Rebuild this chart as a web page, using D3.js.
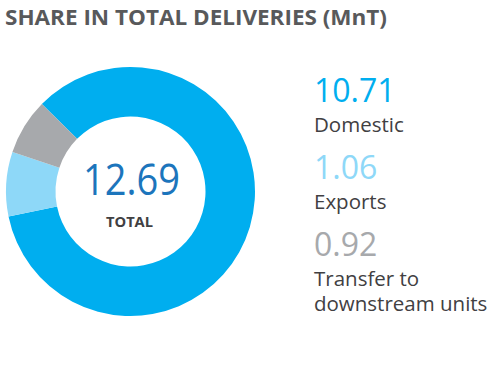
<!DOCTYPE html>
<html>
<head>
<meta charset="utf-8">
<script src="https://cdn.jsdelivr.net/npm/d3@7"></script>
<style>
  html, body { margin: 0; padding: 0; background: #fff; }
  svg { display: block; }
  text { font-family: "Open Sans", "Noto Sans", sans-serif; }
</style>
</head>
<body>
<svg id="chart" width="500" height="379"></svg>
<script>
const title = "SHARE IN TOTAL DELIVERIES (MnT)";
const categories = ["Domestic", "Exports", "Transfer to downstream units"];
const labelLines = [["Domestic"], ["Exports"], ["Transfer to", "downstream units"]];
const values = [10.71, 1.06, 0.92];
const valueLabels = ["10.71", "1.06", "0.92"];
const colors = ["#00AEEF", "#8ED8F8", "#A7A9AC"];
const totalLabel = "12.69";
const totalCaption = "TOTAL";

const svg = d3.select("#chart");

svg.append("text")
  .attr("x", 5).attr("y", 25)
  .attr("font-size", 22).attr("font-weight", 700)
  .attr("fill", "#58595B")
  .attr("textLength", 382).attr("lengthAdjust", "spacingAndGlyphs")
  .text(title);

const cx = 130.5, cy = 191.5, rOuter = 124.5, rInner = 75;
const start = -45.4 * Math.PI / 180;
const pie = d3.pie().sort(null).value(d => d).startAngle(start).endAngle(start + 2 * Math.PI);
const arc = d3.arc().innerRadius(rInner).outerRadius(rOuter);

const g = svg.append("g").attr("transform", `translate(${cx},${cy})`);
g.selectAll("path").data(pie(values)).enter().append("path")
  .attr("d", arc)
  .attr("fill", (d, i) => colors[i]);

g.append("text")
  .attr("x", 1).attr("y", 3.5)
  .attr("text-anchor", "middle")
  .attr("font-size", 44).attr("font-weight", 400)
  .attr("fill", "#1C75BC")
  .attr("textLength", 97).attr("lengthAdjust", "spacingAndGlyphs")
  .text(totalLabel);

g.append("text")
  .attr("x", -1).attr("y", 35.5)
  .attr("text-anchor", "middle")
  .attr("font-size", 15).attr("font-weight", 700)
  .attr("fill", "#414042")
  .attr("textLength", 47).attr("lengthAdjust", "spacingAndGlyphs")
  .text(totalCaption);

const y = d3.scalePoint().domain(categories).range([102, 256]);
const legend = svg.append("g");
categories.forEach((c, i) => {
  const by = y(c);
  legend.append("text")
    .attr("x", 314).attr("y", by)
    .attr("font-size", 32).attr("font-weight", 400)
    .attr("fill", colors[i])
    .text(valueLabels[i]);
  labelLines[i].forEach((line, j) => {
    legend.append("text")
      .attr("x", 314).attr("y", by + 30 + j * 25)
      .attr("font-size", 20.5).attr("font-weight", 400)
      .attr("fill", "#414042")
      .text(line);
  });
});
</script>
</body>
</html>
